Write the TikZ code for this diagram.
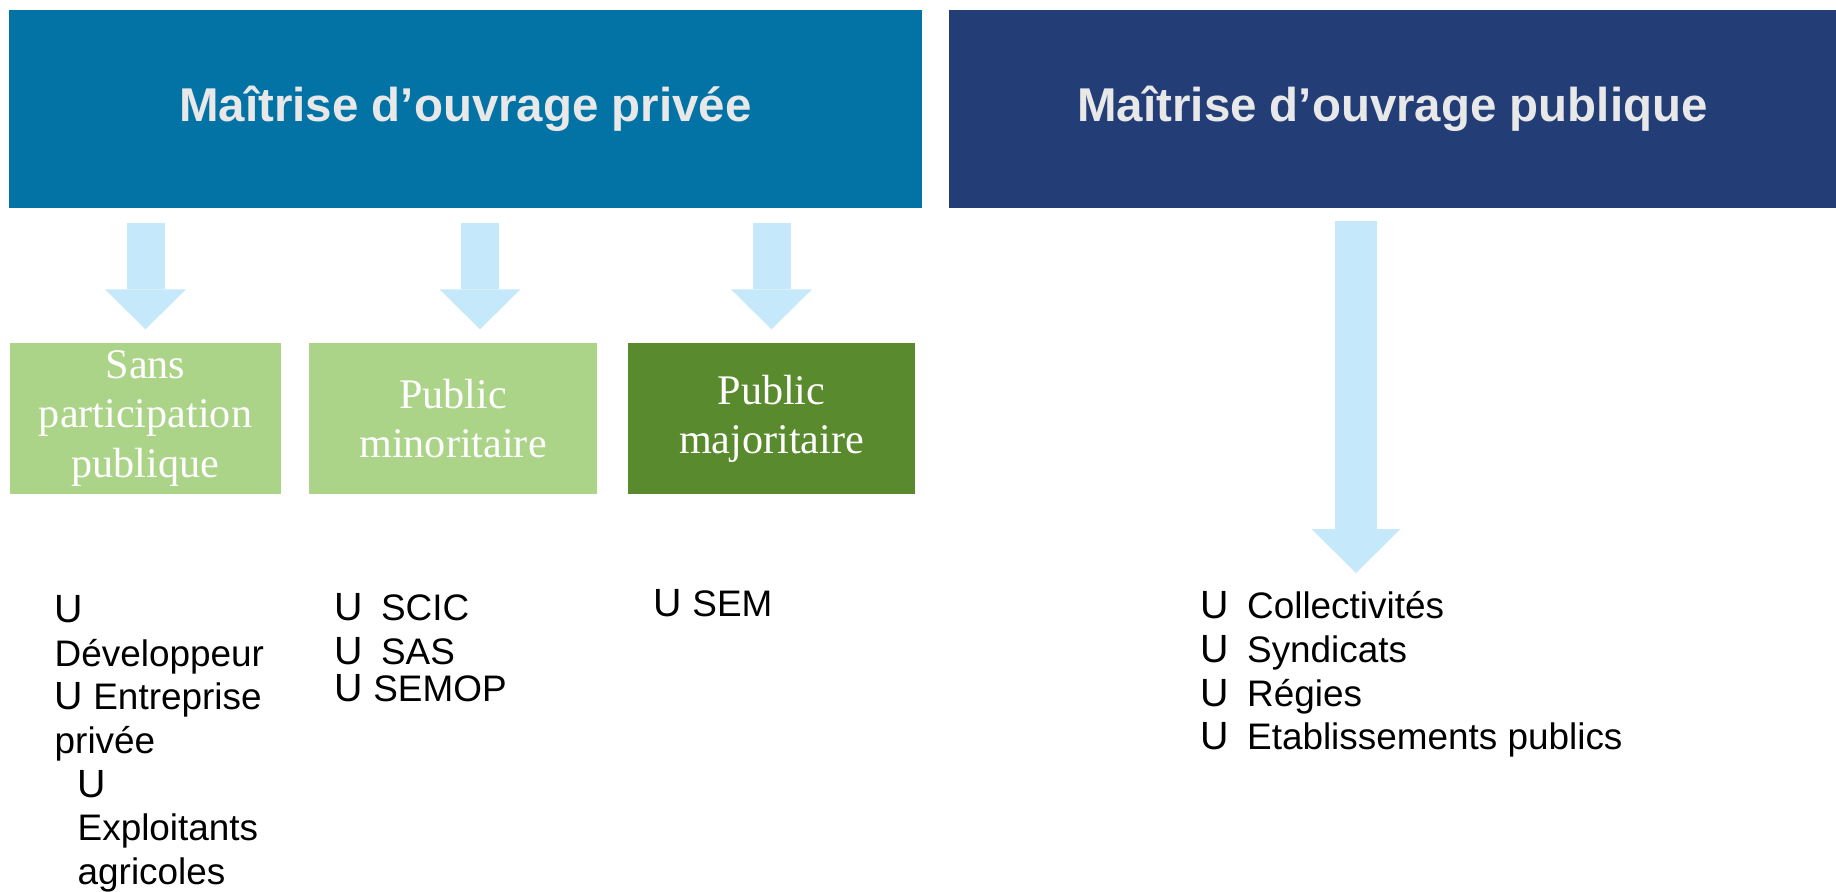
\documentclass[tikz,border=0pt]{standalone}
\usepackage{fontspec}
\setmainfont{Liberation Serif}
\setsansfont{Liberation Sans}
\usepackage{xcolor}
\usepackage{tikz}
\usetikzlibrary{arrows.meta}
\definecolor{privee}{RGB}{3,115,166}
\definecolor{publique}{RGB}{35,62,118}
\definecolor{titre}{RGB}{232,232,232}
\definecolor{vertclair}{RGB}{172,212,136}
\definecolor{vertfonce}{RGB}{90,138,46}
\definecolor{fleche}{RGB}{197,233,250}
\newcommand*{\puce}{{\fontsize{11.2}{12.4}\selectfont U}}

\begin{document}
\begin{tikzpicture}[
  hdr/.style={minimum height=1.98cm,inner sep=0pt,text=titre,font=\sffamily\bfseries\fontsize{13.5}{16}\selectfont},
  cat/.style={minimum height=1.51cm,inner sep=0pt,text=white,align=center,font=\fontsize{12}{14}\selectfont},
  liste/.style={anchor=north west,inner sep=0pt,align=left,font=\sffamily\fontsize{10.5}{12.4}\selectfont},
  arr/.style={draw=fleche,line width=3.8mm,-{Triangle[width=8.1mm,length=4mm,line width=0pt]}},
  grandarr/.style={draw=fleche,line width=4.2mm,-{Triangle[width=8.9mm,length=4.4mm,line width=0pt]}}]
\path[use as bounding box,fill=white](0,0)rectangle(18.36,8.91);

\node[hdr,fill=privee,minimum width=9.13cm](privee)at(4.655,7.82){Maîtrise d’ouvrage privée};
\node[hdr,fill=publique,minimum width=8.87cm](publique)at(13.925,7.82){Maîtrise d’ouvrage publique};

\node[cat,fill=vertclair,minimum width=2.71cm](sans)at(1.455,4.725){Sans\\participation\\publique};
\node[cat,fill=vertclair,minimum width=2.88cm](mino)at(4.53,4.725){Public\\minoritaire};
\node[cat,fill=vertfonce,minimum width=2.87cm](majo)at(7.715,4.725){Public\\majoritaire};

\coordinate(b2)at([xshift=2.7mm]mino.north);
\coordinate(pubfin)at(13.56,3.18);
\draw[arr]([yshift=-1.4mm]privee.south -| sans.north)--([yshift=1.3mm]sans.north);
\draw[arr]([yshift=-1.4mm]privee.south -| b2)--([yshift=1.3mm]b2);
\draw[arr]([yshift=-1.4mm]privee.south -| majo.north)--([yshift=1.3mm]majo.north);
\draw[grandarr]([yshift=-1.2mm]publique.south -| pubfin)--(pubfin);

\node[liste](lsans)at(0.54,2.96){\puce\\Développeur\\\puce\ Entreprise\\privée\\\hspace*{2.3mm}\puce\\\hspace*{2.3mm}Exploitants\\\hspace*{2.3mm}agricoles};
\node[liste](lmino)at(3.34,2.98){\puce\hspace{1.8mm}SCIC\\\puce\hspace{1.8mm}SAS\\[-0.6mm]\puce\ SEMOP};
\node[liste](lmajo)at(6.53,3.02){\puce\ SEM};
\node[liste](lpub)at(12.00,3.00){\puce\hspace{1.8mm}Collectivités\\\puce\hspace{1.8mm}Syndicats\\\puce\hspace{1.8mm}Régies\\\puce\hspace{1.8mm}Etablissements publics};

\end{tikzpicture}
\end{document}
